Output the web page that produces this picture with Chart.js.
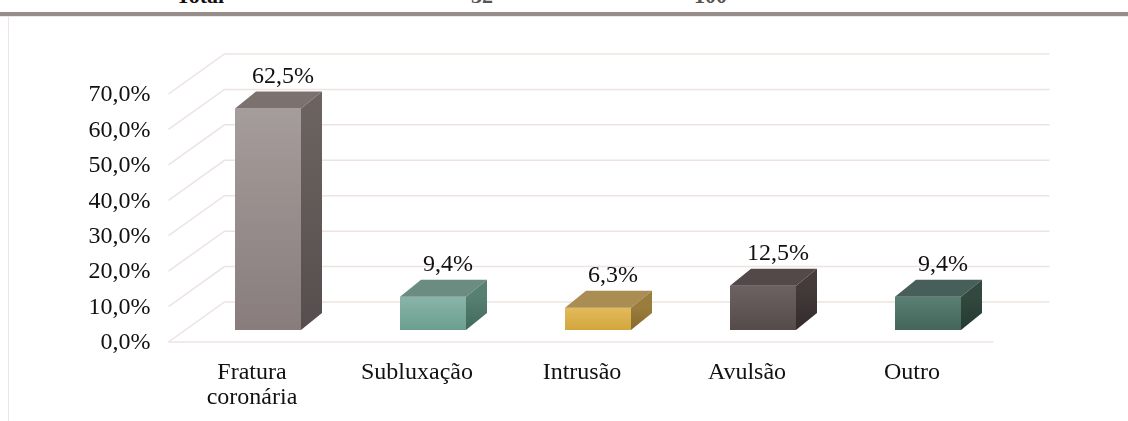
<!DOCTYPE html>
<html>
<head>
<meta charset="utf-8">
<script src="https://cdn.jsdelivr.net/npm/chart.js@4.4.1/dist/chart.umd.min.js"></script>
<style>
  html, body { margin: 0; padding: 0; background: #fff; }
  #wrap { position: relative; width: 1128px; height: 421px; overflow: hidden; }
  #topRow { position: absolute; left: 0; top: -15px; width: 1128px; height: 22px;
    font: bold 22px "Liberation Serif", serif; line-height: 22px; color: #111; }
  #topRow span { position: absolute; top: 0; }
  #band { position: absolute; left: 0; top: 12px; width: 1128px; height: 4px; background: #978d8b; }
  #bandLight { position: absolute; left: 0; top: 16px; width: 1128px; height: 1px; background: #ede7e5; }
  #leftLine { position: absolute; left: 8px; top: 16px; width: 1px; height: 405px; background: #efe6e3; }
  canvas { position: absolute; left: 0; top: 0; }
</style>
</head>
<body>
<div id="wrap">
  <div id="topRow"><span style="left:176px">Total</span><span style="left:471px;color:#555">32</span><span style="left:694px;color:#555">100</span></div>
  <div id="band"></div>
  <div id="bandLight"></div>
  <div id="leftLine"></div>
  <canvas id="chart" width="1128" height="421"></canvas>
</div>
<script>
// Data
const categories = [['Fratura', 'coronária'], 'Subluxação', 'Intrusão', 'Avulsão', 'Outro'];
const percentages = [62.5, 9.4, 6.3, 12.5, 9.4];
const yTicks = [0, 10, 20, 30, 40, 50, 60, 70];

// Bar face colours (front top / front bottom / top face / side top / side bottom)
const frontTop = ['#a59d9b', '#88b5a8', '#e3bb5c', '#6b6261', '#5a8073'];
const frontBottom = ['#887d7c', '#6c9e90', '#d3a53d', '#554b4a', '#42675a'];
const topFace = ['#7b7270', '#6b8c80', '#a98d52', '#524948', '#475f58'];
const sideTop = ['#6b6360', '#577f72', '#9a7c3c', '#443c3b', '#33493f'];
const sideBottom = ['#564e4c', '#416a5d', '#86692c', '#332c2b', '#233a31'];

const FONT = '"Liberation Serif", "Times New Roman", serif';
const depthX = 21, depthY = -17;   // bar depth
const backX = 39, backY = -28;     // back wall relative to bar plane
const frontX = -17, frontY = 12;   // front edge relative to bar plane

function fmt(v) {
  return v.toFixed(1).replace('.', ',') + '%';
}

// Draw the floor/back wall grid in 3D
const grid3d = {
  id: 'grid3d',
  beforeDatasetsDraw(chart) {
    const { ctx, chartArea: a, scales: { y } } = chart;
    ctx.save();
    ctx.strokeStyle = '#ede3e0';
    ctx.lineWidth = 1.5;
    yTicks.forEach(v => {
      const py = y.getPixelForValue(v);
      ctx.beginPath();
      ctx.moveTo(a.left + frontX, py + frontY);
      ctx.lineTo(a.left + backX, py + backY);
      ctx.lineTo(a.right + backX, py + backY);
      ctx.stroke();
    });
    const p0 = y.getPixelForValue(0);
    ctx.beginPath();
    ctx.moveTo(a.left + frontX, p0 + frontY);
    ctx.lineTo(a.right + frontX, p0 + frontY);
    ctx.stroke();
    ctx.restore();
  }
};

// Top and side faces of the bars plus the value labels
const bar3d = {
  id: 'bar3d',
  afterDatasetsDraw(chart) {
    const { ctx } = chart;
    const meta = chart.getDatasetMeta(0);
    ctx.save();
    meta.data.forEach((bar, i) => {
      const x0 = bar.x - bar.width / 2;
      const x1 = bar.x + bar.width / 2;
      const top = bar.y;
      const base = bar.base;

      // top face
      ctx.beginPath();
      ctx.moveTo(x0, top);
      ctx.lineTo(x1, top);
      ctx.lineTo(x1 + depthX, top + depthY);
      ctx.lineTo(x0 + depthX, top + depthY);
      ctx.closePath();
      ctx.fillStyle = topFace[i];
      ctx.fill();

      // side face
      const g = ctx.createLinearGradient(0, top, 0, base);
      g.addColorStop(0, sideTop[i]);
      g.addColorStop(1, sideBottom[i]);
      ctx.beginPath();
      ctx.moveTo(x1, top);
      ctx.lineTo(x1 + depthX, top + depthY);
      ctx.lineTo(x1 + depthX, base + depthY);
      ctx.lineTo(x1, base);
      ctx.closePath();
      ctx.fillStyle = g;
      ctx.fill();

      // value label
      ctx.fillStyle = '#111';
      ctx.font = '24px ' + FONT;
      ctx.textAlign = 'center';
      ctx.textBaseline = 'alphabetic';
      ctx.fillText(fmt(percentages[i]), bar.x + 15, top + depthY - 9);
    });
    ctx.restore();
  }
};

function frontGradient(context) {
  const chart = context.chart;
  const i = context.dataIndex;
  if (!chart.chartArea || i === undefined) return frontTop[i || 0];
  const y = chart.scales.y;
  const g = chart.ctx.createLinearGradient(0, y.getPixelForValue(percentages[i]), 0, y.getPixelForValue(0));
  g.addColorStop(0, frontTop[i]);
  g.addColorStop(1, frontBottom[i]);
  return g;
}

new Chart(document.getElementById('chart'), {
  type: 'bar',
  data: {
    labels: categories,
    datasets: [{
      data: percentages,
      backgroundColor: frontGradient,
      borderWidth: 0,
      categoryPercentage: 1,
      barPercentage: 0.4
    }]
  },
  options: {
    responsive: false,
    animation: false,
    layout: { padding: { top: 82, right: 117.5, left: 0, bottom: 0 } },
    plugins: {
      legend: { display: false },
      tooltip: { enabled: false }
    },
    scales: {
      x: {
        grid: { display: false, drawTicks: false },
        border: { display: false },
        afterFit: s => { s.height = 91; },
        ticks: {
          color: '#111',
          font: { family: FONT, size: 24, lineHeight: 1.05 },
          padding: 30,
          labelOffset: -16,
          maxRotation: 0,
          autoSkip: false
        }
      },
      y: {
        min: 0,
        max: 70,
        grid: { display: false, drawTicks: false },
        border: { display: false },
        afterFit: s => { s.width = 185.5; },
        ticks: {
          stepSize: 10,
          color: '#111',
          font: { family: FONT, size: 24 },
          padding: 35,
          labelOffset: 13,
          callback: v => fmt(v)
        }
      }
    }
  },
  plugins: [grid3d, bar3d]
});
</script>
</body>
</html>
